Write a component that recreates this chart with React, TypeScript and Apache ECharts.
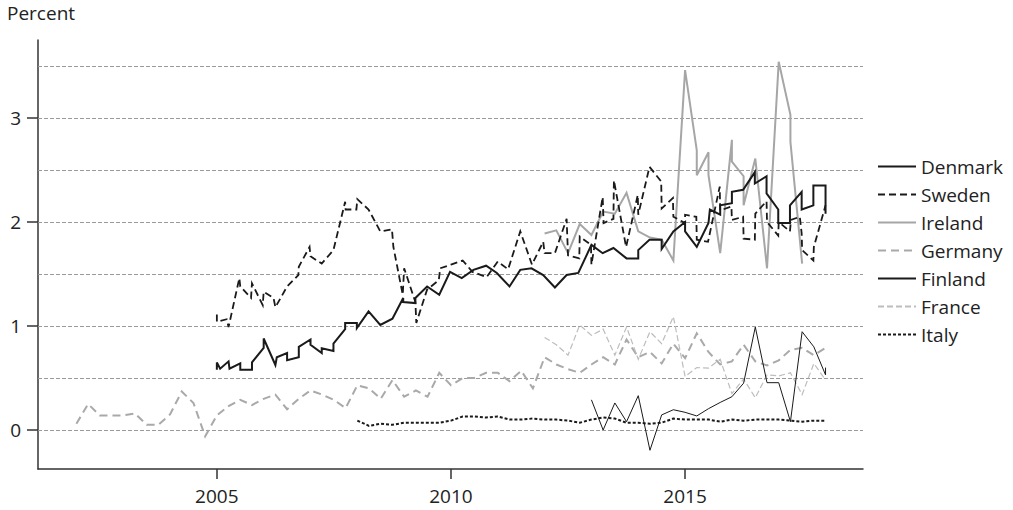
import React, { useEffect, useRef } from "react";
import * as echarts from "echarts";

const FONT = "'Open Sans', 'Noto Sans', sans-serif";

const seriesNames = ["Denmark", "Sweden", "Ireland", "Germany", "Finland", "France", "Italy"];
const xTickLabels = [2005, 2010, 2015];
const yTickLabels = [0, 1, 2, 3];
const gridValues = [0, 0.5, 1, 1.5, 2, 2.5, 3, 3.5];

const denmark: [number, number][] = [
  [2005.0, 0.58], [2005.0, 0.65], [2005.07, 0.59], [2005.25, 0.66], [2005.27, 0.59], [2005.5, 0.64],
  [2005.5, 0.58], [2005.75, 0.58], [2005.75, 0.65], [2006.0, 0.79], [2006.0, 0.88], [2006.25, 0.625],
  [2006.28, 0.7], [2006.5, 0.74], [2006.5, 0.67], [2006.75, 0.7], [2006.75, 0.8], [2007.0, 0.87],
  [2007.0, 0.82], [2007.24, 0.74], [2007.24, 0.785], [2007.49, 0.76], [2007.49, 0.83], [2007.74, 0.97],
  [2007.74, 1.03], [2007.99, 1.03], [2007.99, 0.98], [2008.24, 1.14], [2008.49, 1.01], [2008.75, 1.07],
  [2008.98, 1.27], [2008.98, 1.23], [2009.24, 1.22], [2009.24, 1.27], [2009.49, 1.38], [2009.75, 1.3],
  [2009.98, 1.52], [2010.23, 1.46], [2010.48, 1.54], [2010.75, 1.58], [2010.98, 1.51], [2011.25, 1.38],
  [2011.48, 1.54], [2011.72, 1.555], [2011.97, 1.49], [2012.22, 1.37], [2012.47, 1.49], [2012.72, 1.51],
  [2013.0, 1.78], [2013.24, 1.7], [2013.47, 1.75], [2013.75, 1.65], [2014.0, 1.65], [2014.0, 1.73],
  [2014.24, 1.83], [2014.5, 1.83], [2014.5, 1.74], [2014.75, 1.91], [2015.0, 2.0], [2015.0, 1.91],
  [2015.25, 1.76], [2015.5, 1.99], [2015.53, 2.12], [2015.75, 2.07], [2015.75, 2.16], [2016.0, 2.18],
  [2016.0, 2.29], [2016.24, 2.31], [2016.49, 2.48], [2016.49, 2.37], [2016.74, 2.44], [2016.74, 2.275],
  [2016.99, 2.12], [2016.99, 1.99], [2017.24, 1.99], [2017.24, 2.16], [2017.49, 2.29], [2017.49, 2.12],
  [2017.74, 2.16], [2017.74, 2.35], [2018.0, 2.35], [2018.0, 2.08],
];

const sweden: [number, number][] = [
  [2005.0, 1.11], [2005.0, 1.04], [2005.21, 1.065], [2005.25, 0.99], [2005.48, 1.46], [2005.5, 1.38],
  [2005.73, 1.27], [2005.75, 1.41], [2005.98, 1.2], [2006.0, 1.33], [2006.21, 1.27], [2006.25, 1.18],
  [2006.5, 1.38], [2006.74, 1.49], [2006.75, 1.57], [2006.98, 1.76], [2007.0, 1.67], [2007.24, 1.6],
  [2007.49, 1.73], [2007.63, 1.99], [2007.74, 2.195], [2007.75, 2.12], [2007.98, 2.12], [2008.0, 2.22],
  [2008.24, 2.12], [2008.49, 1.91], [2008.74, 1.93], [2008.77, 1.76], [2008.97, 1.3], [2009.0, 1.555],
  [2009.24, 1.23], [2009.26, 1.03], [2009.49, 1.35], [2009.74, 1.44], [2009.77, 1.555], [2010.0, 1.59],
  [2010.25, 1.63], [2010.46, 1.52], [2010.76, 1.47], [2011.0, 1.62], [2011.22, 1.545], [2011.48, 1.91],
  [2011.73, 1.59], [2011.97, 1.81], [2012.0, 1.7], [2012.22, 1.7], [2012.47, 2.03], [2012.5, 1.68],
  [2012.74, 1.65], [2012.75, 1.86], [2012.99, 1.78], [2013.0, 1.59], [2013.24, 2.24], [2013.26, 1.99],
  [2013.47, 2.03], [2013.48, 2.4], [2013.74, 1.76], [2013.99, 2.26], [2014.0, 2.07], [2014.24, 2.53],
  [2014.49, 2.39], [2014.5, 2.13], [2014.74, 2.23], [2014.75, 2.05], [2015.0, 1.99], [2015.0, 2.07],
  [2015.24, 2.05], [2015.25, 1.83], [2015.49, 1.81], [2015.74, 2.34], [2015.75, 2.11], [2015.99, 2.15],
  [2016.0, 2.02], [2016.24, 2.05], [2016.25, 1.84], [2016.49, 1.83], [2016.5, 2.08], [2016.74, 2.2],
  [2016.75, 2.0], [2016.99, 1.87], [2017.0, 2.0], [2017.24, 1.91], [2017.26, 2.02], [2017.45, 2.05],
  [2017.49, 1.89], [2017.5, 1.73], [2017.74, 1.63], [2017.75, 1.76], [2018.0, 2.16],
];

const ireland: [number, number][] = [
  [2012.0, 1.89], [2012.25, 1.92], [2012.5, 1.7], [2012.75, 1.98], [2013.0, 1.875], [2013.25, 2.1],
  [2013.5, 2.08], [2013.75, 2.28], [2014.0, 1.91], [2014.25, 1.85], [2014.5, 1.83], [2014.75, 1.63],
  [2015.0, 3.46], [2015.25, 2.69], [2015.25, 2.45], [2015.5, 2.67], [2015.5, 2.45], [2015.75, 1.7],
  [2016.0, 2.79], [2016.0, 2.58], [2016.25, 2.44], [2016.25, 2.16], [2016.5, 2.61], [2016.75, 1.555],
  [2017.0, 3.54], [2017.25, 3.03], [2017.25, 2.77], [2017.5, 1.6],
];

const germany: [number, number][] = [
  [2002.0, 0.06], [2002.25, 0.25], [2002.5, 0.14], [2002.75, 0.14], [2003.0, 0.14], [2003.25, 0.16],
  [2003.5, 0.05], [2003.75, 0.05], [2004.0, 0.15], [2004.25, 0.37], [2004.5, 0.26], [2004.75, -0.06],
  [2005.0, 0.14], [2005.25, 0.23], [2005.5, 0.29], [2005.75, 0.24], [2006.0, 0.3], [2006.25, 0.34],
  [2006.5, 0.2], [2006.75, 0.3], [2007.0, 0.38], [2007.25, 0.34], [2007.5, 0.29], [2007.75, 0.21],
  [2008.0, 0.43], [2008.25, 0.4], [2008.5, 0.3], [2008.75, 0.48], [2009.0, 0.32], [2009.25, 0.38],
  [2009.5, 0.32], [2009.75, 0.55], [2010.0, 0.43], [2010.25, 0.5], [2010.5, 0.5], [2010.75, 0.55],
  [2011.0, 0.55], [2011.25, 0.47], [2011.5, 0.57], [2011.75, 0.4], [2012.0, 0.7], [2012.25, 0.63],
  [2012.5, 0.585], [2012.75, 0.55], [2013.0, 0.63], [2013.25, 0.7], [2013.5, 0.63], [2013.75, 0.87],
  [2014.0, 0.7], [2014.25, 0.75], [2014.5, 0.64], [2014.75, 0.83], [2015.0, 0.69], [2015.25, 0.93],
  [2015.5, 0.75], [2015.75, 0.63], [2016.0, 0.66], [2016.25, 0.82], [2016.5, 0.66], [2016.75, 0.62],
  [2017.0, 0.67], [2017.25, 0.77], [2017.5, 0.79], [2017.75, 0.72], [2018.0, 0.79],
];

const finland: [number, number][] = [
  [2013.0, 0.29], [2013.25, 0.0], [2013.5, 0.26], [2013.75, 0.08], [2014.0, 0.33], [2014.25, -0.195],
  [2014.5, 0.145], [2014.75, 0.195], [2015.0, 0.17], [2015.25, 0.135], [2015.5, 0.205], [2015.75, 0.265],
  [2016.0, 0.32], [2016.25, 0.45], [2016.5, 0.99], [2016.75, 0.455], [2017.0, 0.455], [2017.25, 0.08],
  [2017.5, 0.945], [2017.75, 0.8], [2018.0, 0.53], [2018.0, 0.6],
];

const france: [number, number][] = [
  [2012.0, 0.89], [2012.25, 0.82], [2012.5, 0.72], [2012.75, 1.01], [2013.0, 0.91], [2013.25, 0.97],
  [2013.5, 0.72], [2013.75, 0.99], [2014.0, 0.68], [2014.25, 0.945], [2014.5, 0.83], [2014.75, 1.09],
  [2015.0, 0.515], [2015.25, 0.6], [2015.5, 0.595], [2015.75, 0.68], [2016.0, 0.35], [2016.25, 0.49],
  [2016.5, 0.31], [2016.75, 0.53], [2017.0, 0.52], [2017.25, 0.55], [2017.5, 0.34], [2017.75, 0.64],
  [2018.0, 0.48],
];

const italy: [number, number][] = [
  [2008.0, 0.09], [2008.25, 0.04], [2008.5, 0.06], [2008.75, 0.05], [2009.0, 0.07], [2009.25, 0.07],
  [2009.5, 0.07], [2009.75, 0.07], [2010.0, 0.09], [2010.25, 0.13], [2010.5, 0.13], [2010.75, 0.12],
  [2011.0, 0.13], [2011.25, 0.1], [2011.5, 0.1], [2011.75, 0.11], [2012.0, 0.1], [2012.25, 0.1],
  [2012.5, 0.09], [2012.75, 0.07], [2013.0, 0.1], [2013.25, 0.12], [2013.5, 0.11], [2013.75, 0.07],
  [2014.0, 0.07], [2014.25, 0.06], [2014.5, 0.07], [2014.75, 0.11], [2015.0, 0.1], [2015.25, 0.1],
  [2015.5, 0.1], [2015.75, 0.08], [2016.0, 0.1], [2016.25, 0.09], [2016.5, 0.1], [2016.75, 0.1],
  [2017.0, 0.1], [2017.25, 0.09], [2017.5, 0.08], [2017.75, 0.09], [2018.0, 0.09],
];

function lineSeries(name: string, data: [number, number][], color: string, width: number, type: any, z: number, extra: any = {}) {
  return {
    name,
    type: "line",
    data,
    showSymbol: false,
    symbol: "none",
    z,
    lineStyle: { color, width, type, cap: "butt", join: "miter" },
    itemStyle: { color },
    ...extra,
  };
}

export default function App() {
  const ref = useRef<HTMLDivElement>(null);
  useEffect(() => {
    if (!ref.current) return;
    const chart = echarts.init(ref.current, undefined, { renderer: "svg" });
    const axisColor = "#333";
    const labelSize = 19;
    chart.setOption({
      animation: false,
      backgroundColor: "#fff",
      textStyle: { fontFamily: FONT },
      grid: { left: 38, right: 150, top: 40, bottom: 41, containLabel: false },
      graphic: [
        { type: "text", left: 7, top: 3, style: { text: "Percent", fontSize: 19, fill: "#222", fontFamily: FONT } },
      ],
      legend: {
        data: seriesNames,
        orient: "vertical",
        left: 877,
        top: 157,
        padding: 0,
        itemWidth: 38,
        itemHeight: 14,
        itemGap: 9,
        itemStyle: { opacity: 0, borderWidth: 0 },
        textStyle: { fontSize: labelSize, color: "#222", fontFamily: FONT },
        selectedMode: false,
      },
      xAxis: {
        type: "value",
        min: 2001.18,
        max: 2018.8,
        splitLine: { show: false },
        axisLine: { show: true, onZero: false, lineStyle: { color: axisColor, width: 1.5 } },
        axisTick: { show: true, length: 10, customValues: xTickLabels, lineStyle: { color: axisColor, width: 1.5 } },
        axisLabel: { customValues: xTickLabels, fontSize: labelSize, color: "#222", margin: 17, fontFamily: FONT, formatter: (v: number) => String(v) },
      },
      yAxis: {
        type: "value",
        min: -0.375,
        max: 3.75,
        splitLine: { show: false },
        axisLine: { show: true, onZero: false, lineStyle: { color: axisColor, width: 1.5 } },
        axisTick: { show: true, length: 11, customValues: yTickLabels, lineStyle: { color: axisColor, width: 1.5 } },
        axisLabel: { customValues: yTickLabels, fontSize: labelSize, color: "#222", margin: 17, fontFamily: FONT, formatter: (v: number) => String(v) },
      },
      series: [
        lineSeries("Germany", germany, "#a9a9a9", 2, [8, 5], 2, {
          markLine: {
            silent: true,
            symbol: "none",
            label: { show: false },
            lineStyle: { color: "#9a9a9a", width: 1, type: [4, 2] },
            data: gridValues.map((v) => ({ yAxis: v })),
            z: 1,
          },
        }),
        lineSeries("France", france, "#bdbdbd", 1.2, [6, 3], 3),
        lineSeries("Ireland", ireland, "#a6a6a6", 2, "solid", 4),
        lineSeries("Italy", italy, "#1a1a1a", 2, [3, 2], 5),
        lineSeries("Finland", finland, "#1a1a1a", 1, "solid", 6),
        lineSeries("Sweden", sweden, "#1a1a1a", 1.8, [7, 4], 7),
        lineSeries("Denmark", denmark, "#1a1a1a", 2, "solid", 8),
      ],
    });
    return () => chart.dispose();
  }, []);
  return <div ref={ref} style={{ position: "absolute", left: 0, top: 0, width: 1013, height: 510 }} />;
}
